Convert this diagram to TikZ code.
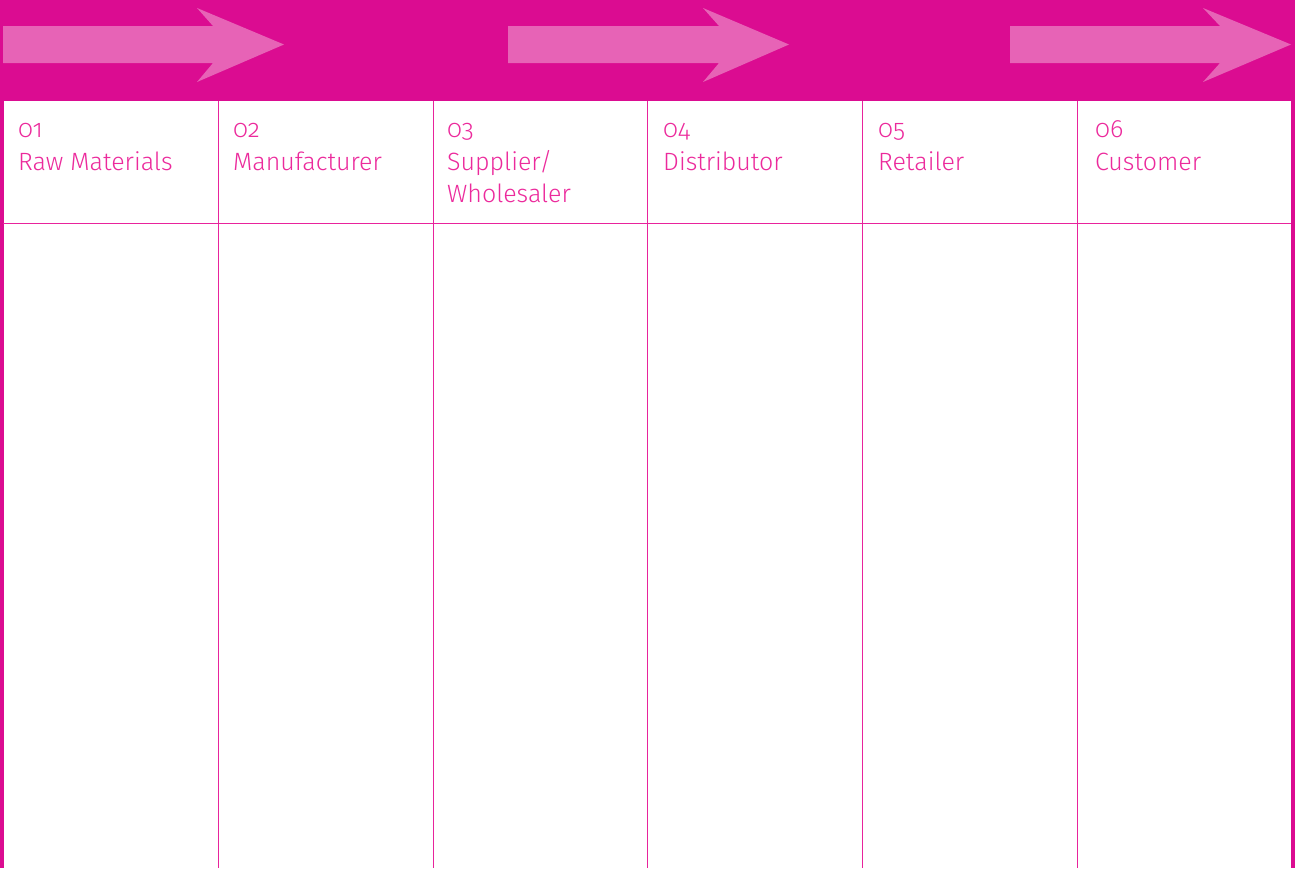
\documentclass[tikz,border=0pt]{standalone}
\usepackage{fontspec}
\setmainfont{Fira Sans Light}[Numbers=OldStyle]
\definecolor{band}{HTML}{DB0C91}
\definecolor{arrowc}{HTML}{E763B6}
\definecolor{ink}{HTML}{EC2A9C}
\definecolor{rule}{HTML}{E8239C}
\begin{document}
\begin{tikzpicture}[x=1pt,y=-1pt,
  colline/.style={draw=rule, line width=1pt},
  numlabel/.style={anchor=base west, inner sep=0pt, text=ink, font=\fontsize{25}{32}\selectfont},
  titlelabel/.style={anchor=base west, inner sep=0pt, text=ink, align=left, font=\fontsize{25}{32}\selectfont}]
\useasboundingbox (0,0) rectangle (1295,868);
\fill[white] (0,0) rectangle (1295,868);
% top band
\fill[band] (0,0) rectangle (1295,101);
% arrows
\foreach \s/\b/\n/\t in {3/197/213/284, 508/703/719/789, 1010/1203/1220/1291}{
  \fill[arrowc] (\s,26) -- (\n,26) -- (\b,8) -- (\t,44.5) -- (\b,82) -- (\n,63) -- (\s,63) -- cycle;
}
% outer borders
\fill[band] (0,101) rectangle (3.5,868);
\fill[band] (1291,101) rectangle (1295,868);
% header line
\coordinate (hl) at (3,223);
\coordinate (hr) at (1291,223);
\draw[colline] (hl) -- (hr);
% column dividers
\foreach \i/\x in {1/218,2/433,3/647,4/862,5/1077}{
  \coordinate (top\i) at (\x,101);
  \coordinate (bot\i) at (\x,868);
  \draw[colline] (top\i) -- (bot\i);
}
% labels
\node[numlabel] (n1) at (18,137) {01};
\node[titlelabel] (t1) at (18,170) {Raw Materials};
\node[numlabel] (n2) at (233,137) {02};
\node[titlelabel] (t2) at (233,170) {Manufacturer};
\node[numlabel] (n3) at (447,137) {03};
\node[titlelabel] (t3) at (447,202) {Supplier/\\Wholesaler};
\node[numlabel] (n4) at (663,137) {04};
\node[titlelabel] (t4) at (663,170) {Distributor};
\node[numlabel] (n5) at (878,137) {05};
\node[titlelabel] (t5) at (878,170) {Retailer};
\node[numlabel] (n6) at (1095,137) {06};
\node[titlelabel] (t6) at (1095,170) {Customer};
\end{tikzpicture}
\end{document}
